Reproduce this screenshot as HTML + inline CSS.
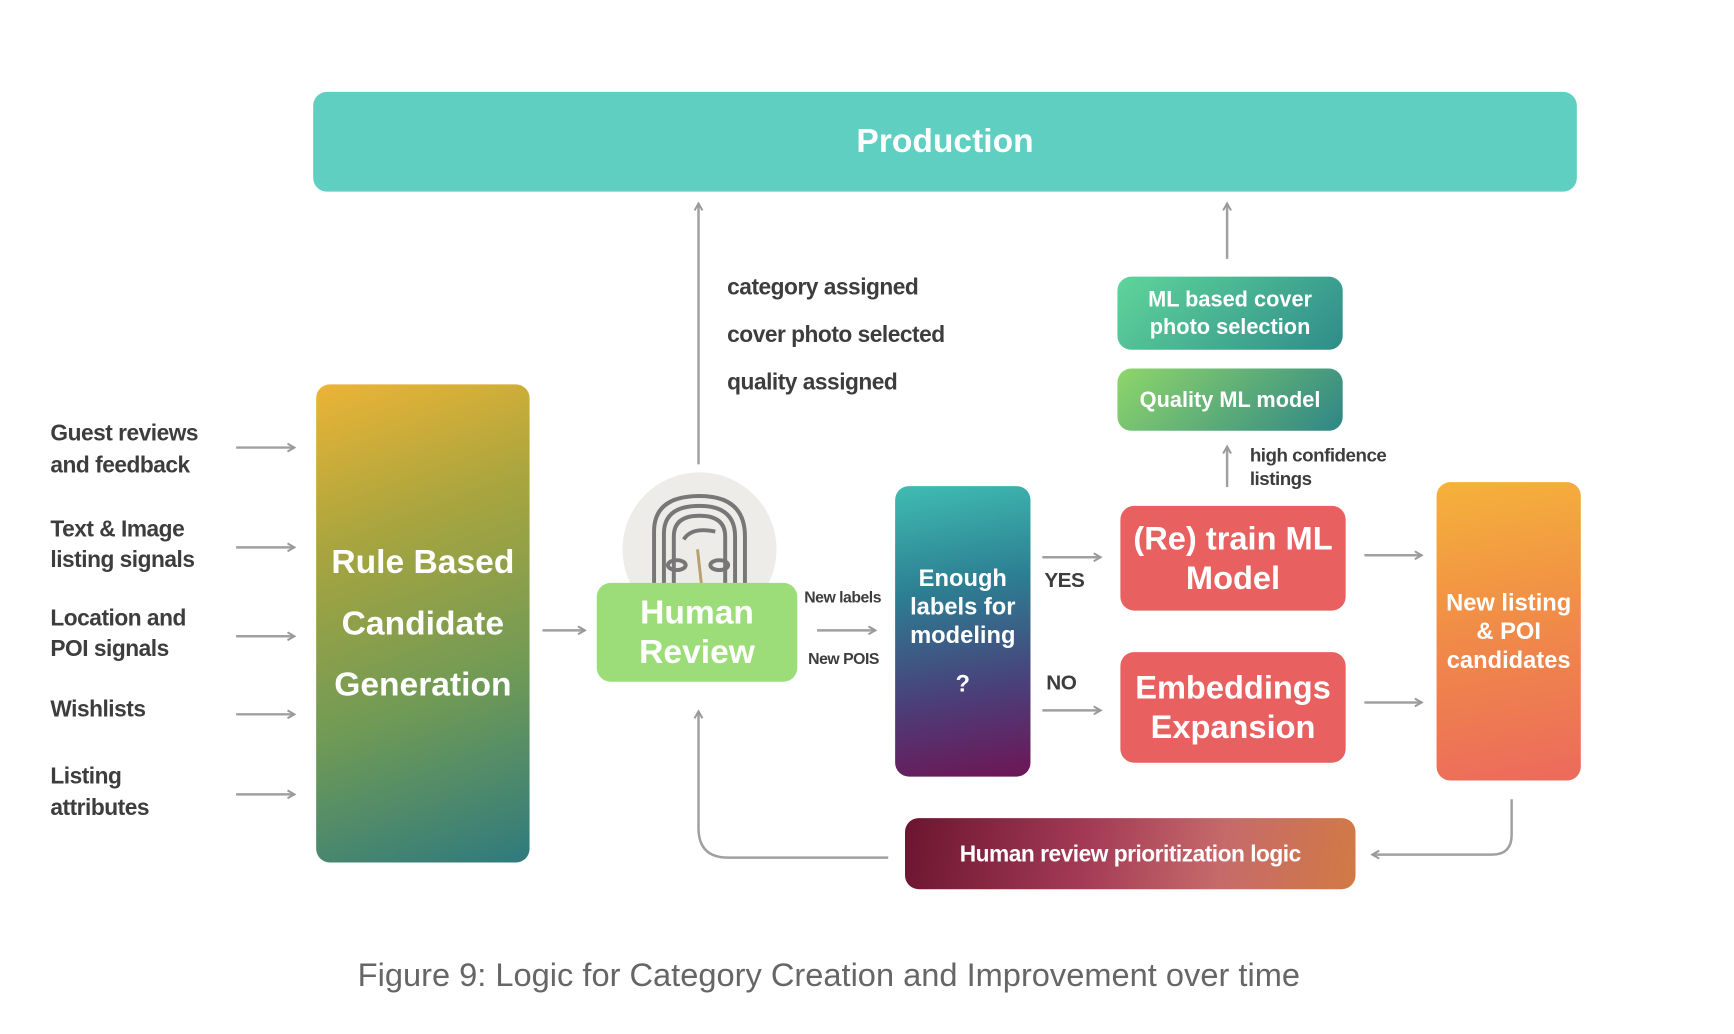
<!DOCTYPE html>
<html><head><meta charset="utf-8"><style>
body{margin:0;width:1734px;height:1034px;background:#fff;position:relative;overflow:hidden;font-family:"Liberation Sans",sans-serif}
#w{position:absolute;left:0;top:0;width:1755px;height:1047px;transform:scale(0.988);transform-origin:0 0}
.b{position:absolute;border-radius:14px;color:#fff;font-weight:bold;display:flex;flex-direction:column;align-items:center;justify-content:center;text-align:center}
.t{position:absolute;color:#3d3d3d;font-weight:bold;letter-spacing:-0.5px}
svg{position:absolute;left:0;top:0}
</style></head><body><div id="w">
<svg width="1755" height="1047">
<defs><marker id="a" markerWidth="10" markerHeight="10" refX="8" refY="5" orient="auto" markerUnits="userSpaceOnUse"><path d="M1,1 L8,5 L1,9" fill="none" stroke="#999" stroke-width="2"/></marker></defs>
<g stroke="#a0a0a0" stroke-width="2.5" fill="none" marker-end="url(#a)">
<line x1="239" y1="453" x2="298" y2="453"/><line x1="239" y1="554" x2="298" y2="554"/><line x1="239" y1="644" x2="298" y2="644"/><line x1="239" y1="723" x2="298" y2="723"/><line x1="239" y1="804" x2="298" y2="804"/>
<line x1="549" y1="638" x2="592" y2="638"/>
<line x1="707" y1="470" x2="707" y2="206"/>
<line x1="827" y1="638" x2="886" y2="638"/>
<line x1="1055" y1="564" x2="1114" y2="564"/><line x1="1055" y1="719" x2="1114" y2="719"/>
<line x1="1381" y1="562" x2="1439" y2="562"/><line x1="1381" y1="711" x2="1439" y2="711"/>
<line x1="1242" y1="493" x2="1242" y2="452"/><line x1="1242" y1="262" x2="1242" y2="206"/>
<path d="M1530,809 L1530,845 Q1530,865 1510,865 L1389,865"/>
<path d="M899,868 L737,868 Q707,868 707,838 L707,720"/>
</g>
<circle cx="708" cy="556" r="78" fill="#eeece9"/>
<g stroke="#777" stroke-width="4" fill="none">
<path d="M662,592 L662,538 Q662,502 708,502 Q754,502 754,543 L754,592"/>
<path d="M672,592 L672,540 Q672,512 708,512 Q744,512 744,543 L744,592"/>
<path d="M682,592 L682,543 Q682,522 708,522 Q734,522 734,543 L734,592"/>
<path d="M692,546 Q700,533 724,538"/>
<ellipse cx="685" cy="572" rx="9" ry="5"/><ellipse cx="728" cy="572" rx="9" ry="5"/>
</g>
<line x1="706" y1="556" x2="710" y2="592" stroke="#b8a070" stroke-width="3"/>
</svg>
<div class="b" style="left:317px;top:93px;width:1279px;height:101px;background:#5ecfc0;font-size:34px">Production</div>
<div class="t" style="left:51px;top:422px;font-size:23px;line-height:32px">Guest reviews<br>and feedback</div>
<div class="t" style="left:51px;top:520px;font-size:23px;line-height:31px">Text &amp; Image<br>listing signals</div>
<div class="t" style="left:51px;top:610px;font-size:23px;line-height:31px">Location and<br>POI signals</div>
<div class="t" style="left:51px;top:704px;font-size:23px">Wishlists</div>
<div class="t" style="left:51px;top:769px;font-size:23px;line-height:32px">Listing<br>attributes</div>
<div class="b" style="left:320px;top:389px;width:216px;height:484px;background:linear-gradient(160deg,#ecb436 0%,#a9a53e 30%,#6f9a56 65%,#2f7a7e 100%);font-size:34px;line-height:62px">Rule Based<br>Candidate<br>Generation</div>
<div class="b" style="left:604px;top:590px;width:203px;height:100px;background:#9ddd79;font-size:34px;line-height:40px">Human<br>Review</div>
<div class="t" style="left:736px;top:266px;font-size:23px;line-height:48px">category assigned<br>cover photo selected<br>quality assigned</div>
<div class="t" style="left:814px;top:597px;font-size:16px">New labels</div>
<div class="t" style="left:818px;top:659px;font-size:16px">New POIS</div>
<div class="b" style="left:906px;top:492px;width:137px;height:294px;background:linear-gradient(170deg,#40bcb2 0%,#2c7f92 35%,#4a3f7a 70%,#6e1555 100%);font-size:24px;line-height:29px">Enough<br>labels for<br>modeling<br><span style="margin-top:20px">?</span></div>
<div class="t" style="left:1057px;top:576px;font-size:21px">YES</div>
<div class="t" style="left:1059px;top:680px;font-size:21px">NO</div>
<div class="b" style="left:1131px;top:280px;width:228px;height:74px;background:linear-gradient(135deg,#5fd59a,#2f8c8a);font-size:22px;line-height:28px">ML based cover<br>photo selection</div>
<div class="b" style="left:1131px;top:373px;width:228px;height:63px;background:linear-gradient(135deg,#8fd66a,#2e8686);font-size:22px">Quality ML model</div>
<div class="t" style="left:1265px;top:450px;font-size:19px;line-height:24px">high confidence<br>listings</div>
<div class="b" style="left:1134px;top:512px;width:228px;height:106px;background:#e8605f;font-size:33px;line-height:40px">(Re) train ML<br>Model</div>
<div class="b" style="left:1134px;top:660px;width:228px;height:112px;background:#e8605f;font-size:33px;line-height:40px">Embeddings<br>Expansion</div>
<div class="b" style="left:1454px;top:488px;width:146px;height:302px;background:linear-gradient(170deg,#f5b23a 0%,#f08a48 50%,#ec6a5c 100%);font-size:24px;line-height:29px">New listing<br>&amp; POI<br>candidates</div>
<div class="b" style="left:916px;top:828px;width:456px;height:72px;background:linear-gradient(100deg,#6b1530 0%,#a33a55 40%,#c66a6a 70%,#d27a44 100%);font-size:23px;letter-spacing:-0.5px">Human review prioritization logic</div>
<div style="position:absolute;left:362px;top:968px;font-size:33px;color:#666">Figure 9: Logic for Category Creation and Improvement over time</div>
</div></body></html>
